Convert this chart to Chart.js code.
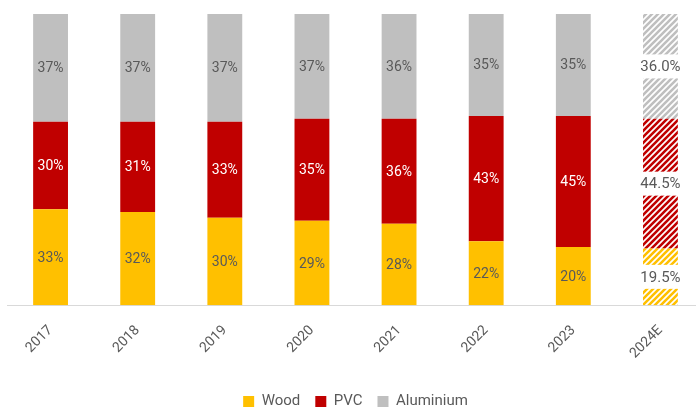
<!DOCTYPE html>
<html>
<head>
<meta charset="utf-8">
<script src="https://cdn.jsdelivr.net/npm/chart.js@4"></script>
<style>
  html, body { margin: 0; padding: 0; background: #fff; overflow: hidden; }
  #wrap { width: 705px; height: 419px; }
</style>
</head>
<body>
<div id="wrap"><canvas id="myChart"></canvas></div>
<script>
let years = ["2017", "2018", "2019", "2020", "2021", "2022", "2023", "2024E"];
let wood = [33, 32, 30, 29, 28, 22, 20, 19.5];
let pvc = [30, 31, 33, 35, 36, 43, 45, 44.5];
let aluminium = [37, 37, 37, 37, 36, 35, 35, 36.0];
let estimateIndex = 7;

// diagonal hatch used for the estimate bar
function hatch(color) {
  let c = document.createElement("canvas");
  c.width = 6;
  c.height = 6;
  let g = c.getContext("2d");
  g.strokeStyle = color;
  g.lineWidth = 2.6;
  g.beginPath();
  g.moveTo(-1, 7); g.lineTo(7, -1);
  g.moveTo(-4, 4); g.lineTo(4, -4);
  g.moveTo(2, 10); g.lineTo(10, 2);
  g.stroke();
  return g.createPattern(c, "repeat");
}

function makeSet(label, values, color, textColor) {
  let pattern = hatch(color);
  return {
    label: label,
    data: values,
    textColor: textColor,
    backgroundColor: ctx => ctx.dataIndex === estimateIndex ? pattern : color,
    borderWidth: 0,
    barPercentage: 0.4,
    categoryPercentage: 1
  };
}

const barLabels = {
  id: "barLabels",
  afterDatasetsDraw(chart) {
    let ctx = chart.ctx;
    ctx.save();
    ctx.textAlign = "center";
    ctx.textBaseline = "middle";
    chart.data.datasets.forEach((ds, i) => {
      let meta = chart.getDatasetMeta(i);
      meta.data.forEach((bar, j) => {
        let v = ds.data[j];
        let top = Math.max(bar.y, chart.chartArea.top);
        let mid = (top + bar.base) / 2;
        if (j === estimateIndex) {
          ctx.fillStyle = "#ffffff";
          ctx.fillRect(bar.x - bar.width / 2 - 1, mid - 12, bar.width + 2, 24);
          ctx.font = "15px Roboto";
          ctx.fillStyle = "#595959";
          ctx.fillText(v.toFixed(1) + "%", bar.x, mid + 1);
        } else {
          ctx.font = "14px Roboto";
          ctx.fillStyle = ds.textColor;
          ctx.fillText(v + "%", bar.x, mid + 1);
        }
      });
    });
    ctx.restore();
  }
};

let ctx = document.getElementById("myChart").getContext("2d");
let myChart = new Chart(ctx, {
  type: "bar",
  data: {
    labels: years,
    datasets: [
      makeSet("Wood", wood, "#FFC000", "#595959"),
      makeSet("PVC", pvc, "#C00000", "#ffffff"),
      makeSet("Aluminium", aluminium, "#BFBFBF", "#595959")
    ]
  },
  options: {
    responsive: true,
    maintainAspectRatio: false,
    animation: false,
    layout: { padding: { top: 14, left: 7, right: 1, bottom: 0 } },
    scales: {
      x: {
        stacked: true,
        grid: { display: false },
        border: { display: true, color: "#d9d9d9", width: 1 },
        ticks: {
          color: "#595959",
          font: { family: "Roboto", size: 14 },
          minRotation: 45,
          maxRotation: 45,
          padding: 9
        },
        afterFit(scale) {
          scale.height += 8;
        }
      },
      y: {
        stacked: true,
        display: false,
        min: 0,
        max: 100
      }
    },
    plugins: {
      legend: {
        position: "bottom",
        labels: {
          color: "#595959",
          font: { family: "Roboto", size: 15 },
          boxWidth: 11,
          boxHeight: 11,
          padding: 15
        }
      },
      tooltip: { enabled: false }
    }
  },
  plugins: [barLabels]
});
</script>
</body>
</html>
